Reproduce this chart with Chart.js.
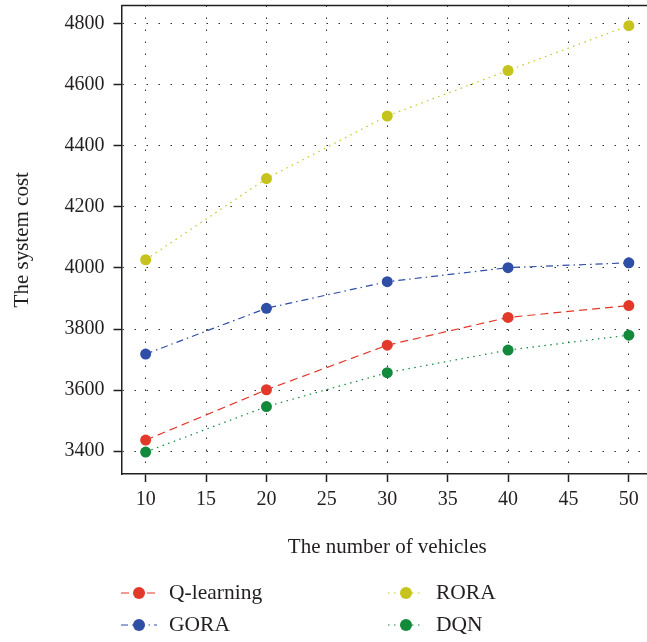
<!DOCTYPE html>
<html>
<head>
<meta charset="utf-8">
<script src="https://cdn.jsdelivr.net/npm/chart.js@4/dist/chart.umd.min.js"></script>
<style>
  html, body { margin: 0; padding: 0; background: #fff; overflow: hidden; }
  canvas { display: block; }
</style>
</head>
<body>
<canvas id="myChart" width="660" height="642"></canvas>
<script>
  // data
  const vehicles = [10, 20, 30, 40, 50];
  const qLearning = [3436, 3601, 3747, 3838, 3877];
  const gora = [3718, 3868, 3955, 4001, 4017];
  const rora = [4027, 4293, 4498, 4647, 4794];
  const dqn = [3397, 3546, 3657, 3731, 3780];
  const seriesNames = ["Q-learning", "GORA", "RORA", "DQN"];
  const xTicks = [10, 15, 20, 25, 30, 35, 40, 45, 50];
  const yTicks = [3400, 3600, 3800, 4000, 4200, 4400, 4600, 4800];

  const seriesColors = ["#e2392b", "#2f4ea6", "#c6c41c", "#13893b"];
  const seriesDash = [[8, 5], [7, 4, 1.5, 4], [1.5, 4.5], [1.5, 4.5]];
  const textColor = "#231f20";
  const serif = "'Liberation Serif', 'DejaVu Serif', serif";

  function toPoints(values) {
    return values.map((v, i) => ({ x: vehicles[i], y: v }));
  }

  let allSeries = [qLearning, gora, rora, dqn];
  let datasets = allSeries.map(function (values, i) {
    return {
      label: seriesNames[i],
      data: toPoints(values),
      borderColor: seriesColors[i],
      backgroundColor: seriesColors[i],
      borderWidth: 1.2,
      borderDash: seriesDash[i],
      pointRadius: 5.5,
      pointBorderWidth: 0,
      pointBackgroundColor: seriesColors[i],
      tension: 0,
    };
  });

  // top frame line + 2x2 legend under the chart
  let framePlugin = {
    id: "frameAndLegend",
    afterDraw: function (chart) {
      let ctx = chart.ctx;
      let area = chart.chartArea;
      ctx.save();
      ctx.strokeStyle = "#231f20";
      ctx.lineWidth = 1.5;
      ctx.beginPath();
      ctx.moveTo(area.left, area.top);
      ctx.lineTo(area.right, area.top);
      ctx.stroke();

      let colX = [121, 388];
      let rowY = [593, 625];
      chart.data.datasets.forEach(function (ds, i) {
        let x0 = colX[Math.floor(i / 2)];
        let y = rowY[i % 2];
        ctx.setLineDash(ds.borderDash);
        ctx.strokeStyle = ds.borderColor;
        ctx.lineWidth = 1.2;
        ctx.beginPath();
        ctx.moveTo(x0, y);
        ctx.lineTo(x0 + 36, y);
        ctx.stroke();
        ctx.setLineDash([]);
        ctx.fillStyle = ds.borderColor;
        ctx.beginPath();
        ctx.arc(x0 + 18, y, 6, 0, Math.PI * 2);
        ctx.fill();
        ctx.fillStyle = textColor;
        ctx.font = "21.5px " + serif;
        ctx.textBaseline = "middle";
        ctx.textAlign = "left";
        ctx.fillText(ds.label, x0 + 48, y);
      });
      ctx.restore();
    },
  };

  let gridOpts = {
    color: "#333",
    lineWidth: 1,
    tickLength: 8,
    tickColor: "#231f20",
    tickWidth: 1.5,
  };
  let borderOpts = { display: true, color: "#231f20", width: 1.5, dash: [1.5, 10.5] };

  let ctx = document.getElementById("myChart").getContext("2d");
  let myChart = new Chart(ctx, {
    type: "line",
    data: { datasets: datasets },
    plugins: [framePlugin],
    options: {
      responsive: false,
      animation: false,
      devicePixelRatio: 1,
      layout: { padding: { top: 1.5, left: 0, right: 7, bottom: 80 } },
      plugins: {
        legend: { display: false },
        tooltip: { enabled: false },
      },
      scales: {
        x: {
          type: "linear",
          min: 8,
          max: 52,
          afterBuildTicks: function (s) {
            s.ticks = xTicks.map((v) => ({ value: v }));
          },
          afterFit: function (s) {
            s.height = 88;
            s.paddingLeft = 0;
            s.paddingRight = 0;
          },
          ticks: {
            color: textColor,
            padding: 6,
            font: { family: serif, size: 20 },
            callback: (v) => String(v),
          },
          grid: gridOpts,
          border: borderOpts,
          title: {
            display: true,
            text: "The number of vehicles",
            color: textColor,
            font: { family: serif, size: 21 },
            padding: { top: 0, bottom: 2 },
          },
        },
        y: {
          min: 3325,
          max: 4860,
          afterBuildTicks: function (s) {
            s.ticks = yTicks.map((v) => ({ value: v }));
          },
          afterFit: function (s) {
            s.width = 121.5;
            s.paddingTop = 0;
            s.paddingBottom = 0;
          },
          ticks: {
            color: textColor,
            padding: 9,
            font: { family: serif, size: 20 },
            callback: (v) => String(v),
          },
          grid: gridOpts,
          border: borderOpts,
          title: {
            display: true,
            text: "The system cost",
            color: textColor,
            font: { family: serif, size: 21 },
            padding: { top: 10, bottom: 0 },
          },
        },
      },
    },
  });
</script>
</body>
</html>
